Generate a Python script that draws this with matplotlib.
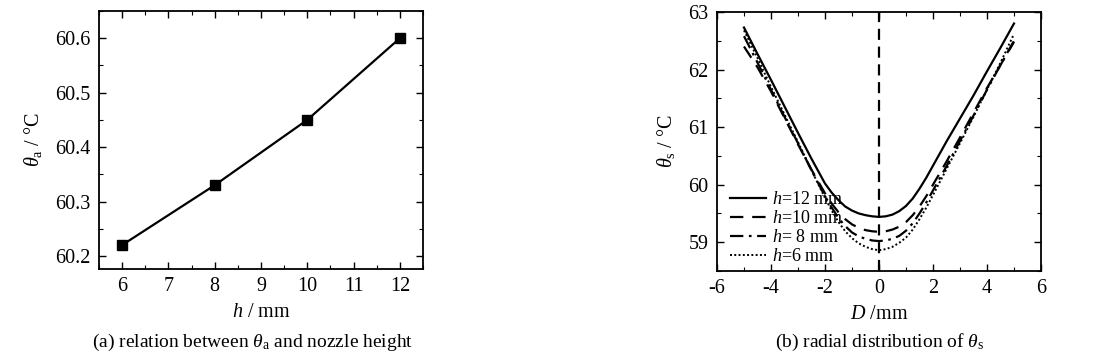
import matplotlib
matplotlib.use("Agg")
import matplotlib.pyplot as plt
from matplotlib.ticker import MultipleLocator

plt.rcParams['font.family'] = ['Liberation Serif', 'DejaVu Serif']
plt.rcParams['mathtext.fontset'] = 'custom'
plt.rcParams['mathtext.rm'] = 'Liberation Serif'
plt.rcParams['mathtext.it'] = 'Liberation Serif:italic'
plt.rcParams['axes.unicode_minus'] = False

# ---- data: panel (a)
h_mm = [6, 8, 10, 12]
theta_a = [60.22, 60.33, 60.45, 60.60]

# ---- data: panel (b)
D_mm = [-5, -4.5, -4, -3.5, -3, -2.5, -2, -1.75, -1.5, -1.25, -1, -0.75, -0.5, -0.25,
        0, 0.25, 0.5, 0.75, 1, 1.25, 1.5, 1.75, 2, 2.5, 3, 3.5, 4, 4.5, 5]
theta_h12 = [62.73, 62.27, 61.82, 61.36, 60.90, 60.45, 60.02, 59.86, 59.73, 59.62, 59.55, 59.50, 59.47, 59.45,
             59.44, 59.45, 59.48, 59.54, 59.63, 59.76, 59.93, 60.12, 60.33, 60.75, 61.15, 61.55, 61.97, 62.38, 62.80]
theta_h10 = [62.40, 62.04, 61.62, 61.16, 60.70, 60.26, 59.85, 59.67, 59.52, 59.40, 59.31, 59.25, 59.21, 59.19,
             59.18, 59.19, 59.22, 59.27, 59.35, 59.47, 59.62, 59.80, 60.00, 60.40, 60.82, 61.25, 61.68, 62.08, 62.48]
theta_h8 = [62.58, 62.12, 61.65, 61.18, 60.72, 60.25, 59.80, 59.60, 59.42, 59.28, 59.17, 59.10, 59.06, 59.03,
            59.02, 59.03, 59.06, 59.11, 59.20, 59.33, 59.50, 59.69, 59.90, 60.32, 60.76, 61.20, 61.65, 62.08, 62.50]
theta_h6 = [62.68, 62.20, 61.70, 61.22, 60.74, 60.25, 59.77, 59.55, 59.35, 59.19, 59.07, 58.98, 58.92, 58.88,
            58.86, 58.88, 58.92, 58.99, 59.08, 59.22, 59.40, 59.60, 59.82, 60.27, 60.72, 61.18, 61.65, 62.12, 62.62]
series_labels = [r'$h$=12 mm', r'$h$=10 mm', r'$h$= 8 mm', r'$h$=6 mm']

W, H = 1101, 358
fig = plt.figure(figsize=(W / 100, H / 100), dpi=100)

def style_axes(ax):
    for s in ax.spines.values():
        s.set_linewidth(1.3)
    ax.tick_params(which='both', direction='in', top=True, right=True, labelsize=14.5, pad=6)
    ax.tick_params(which='major', length=5, width=1.0)
    ax.tick_params(which='minor', length=3, width=0.8)

# panel (a)
ax1 = fig.add_axes([99 / W, 1 - 269 / H, (423 - 99) / W, (269 - 11) / H])
ax1.plot(h_mm, theta_a, color='black', lw=1.6, marker='s', ms=7)
ax1.set_xlim(5.5, 12.5)
ax1.set_ylim(60.176, 60.65)
ax1.xaxis.set_major_locator(MultipleLocator(1))
ax1.xaxis.set_minor_locator(MultipleLocator(0.5))
ax1.yaxis.set_major_locator(MultipleLocator(0.1))
ax1.yaxis.set_minor_locator(MultipleLocator(0.05))
ax1.yaxis.set_major_formatter(matplotlib.ticker.FormatStrFormatter('%.1f'))
style_axes(ax1)
ax1.set_xlabel(r'$h$ / mm', fontsize=14.5, labelpad=5)
ax1.set_ylabel(r'$\theta_{\mathrm{a}}$ / °C', fontsize=14.5, labelpad=8)

# panel (b)
ax2 = fig.add_axes([717 / W, 1 - 271 / H, (1041 - 717) / W, (271 - 12) / H])
ax2.axvline(0, color='black', lw=1.6, ls=(0, (5, 3)))
ax2.plot(D_mm, theta_h12, color='black', lw=1.6, ls='-', label=series_labels[0])
ax2.plot(D_mm, theta_h10, color='black', lw=1.6, ls=(0, (6, 4)), label=series_labels[1])
ax2.plot(D_mm, theta_h8, color='black', lw=1.6, ls=(0, (6, 2.5, 1.2, 2.5)), label=series_labels[2])
ax2.plot(D_mm, theta_h6, color='black', lw=1.4, ls=(0, (1, 1.2)), label=series_labels[3])
ax2.set_xlim(-6, 6)
ax2.set_ylim(58.5, 63)
ax2.xaxis.set_major_locator(MultipleLocator(2))
ax2.xaxis.set_minor_locator(MultipleLocator(1))
ax2.yaxis.set_major_locator(MultipleLocator(1))
ax2.yaxis.set_minor_locator(MultipleLocator(0.5))
style_axes(ax2)
ax2.set_xlabel(r'$D$ /mm', fontsize=14.5, labelpad=5)
ax2.set_ylabel(r'$\theta_{\mathrm{s}}$ / °C', fontsize=14.5, labelpad=8)
leg = ax2.legend(loc='lower left', bbox_to_anchor=(0.0, -0.025), frameon=False, fontsize=13,
                 handlelength=2.0, handletextpad=0.35, labelspacing=0.1, borderaxespad=0.3)

fig.text(253 / W, 1 - 342 / H, r'(a) relation between $\theta_{\mathrm{a}}$ and nozzle height',
         ha='center', va='center', fontsize=14)
fig.text(880 / W, 1 - 342 / H, r'(b) radial distribution of $\theta_{\mathrm{s}}$',
         ha='center', va='center', fontsize=14)

fig.savefig('out.png', dpi=100)
